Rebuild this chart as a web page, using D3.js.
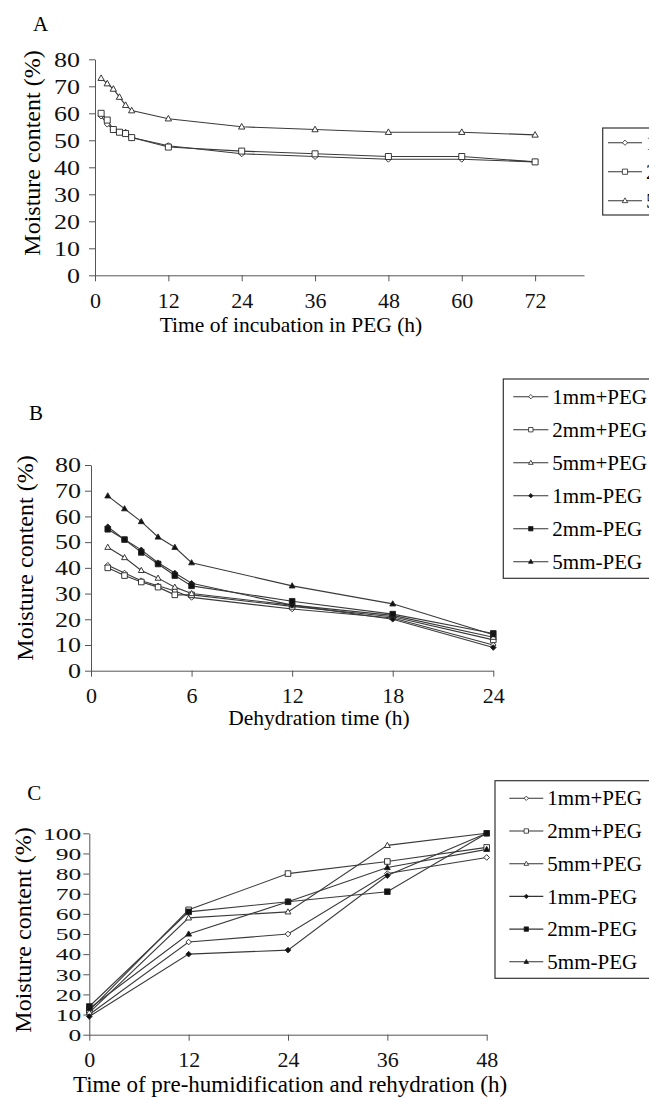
<!DOCTYPE html>
<html>
<head>
<meta charset="utf-8">
<script src="https://cdnjs.cloudflare.com/ajax/libs/d3/7.8.5/d3.min.js"></script>
<style>
  body { margin: 0; background: #fff; }
  svg text { font-family: "Liberation Serif", Tinos, "Times New Roman", "DejaVu Serif", serif; }
</style>
</head>
<body>
<div id="chart"></div>
<script>
// Panel A: incubation in PEG
var hoursA = [1, 2, 3, 4, 5, 6, 12, 24, 36, 48, 60, 72];
var a1mm = [59, 56, 54, 53, 53, 51, 48, 45, 44, 43, 43, 42];
var a2mm = [60, 57.5, 54, 53, 52.5, 51, 47.5, 46, 45, 44, 44, 42];
var a5mm = [73, 71, 69, 66, 63, 61, 58, 55, 54, 53, 53, 52];
var namesA = ["1mm", "2mm", "5mm"];
var ticksAx = [0, 12, 24, 36, 48, 60, 72];

// Panel B: dehydration
var hoursB = [1, 2, 3, 4, 5, 6, 12, 18, 24];
var b1p = [41, 38, 35, 33, 31, 28.5, 24, 20.5, 10];
var b2p = [40, 37, 34.5, 32.5, 29.5, 29.5, 25, 21, 12];
var b5p = [48, 44, 39, 36, 32.5, 30, 25.5, 21.5, 13];
var b1m = [56, 51, 47, 42, 38, 34, 25.5, 20, 9];
var b2m = [55, 51, 46, 41.5, 37, 33, 27, 22, 14.5];
var b5m = [68, 63, 58, 52, 48, 42, 33, 26, 14];
var ticksBx = [0, 6, 12, 18, 24];

// Panel C: pre-humidification and rehydration
var hoursC = [0, 12, 24, 36, 48];
var c1p = [10, 46, 50, 80, 88];
var c2p = [12, 62, 80, 86, 93];
var c5p = [11, 58, 61, 94, 100];
var c1m = [9, 40, 42, 79, 100];
var c2m = [14, 61, 66, 71, 100];
var c5m = [13, 50, 66, 83, 92];
var ticksCx = [0, 12, 24, 36, 48];

var namesBC = ["1mm+PEG", "2mm+PEG", "5mm+PEG", "1mm-PEG", "2mm-PEG", "5mm-PEG"];
var shapes = ["diamond", "square", "triangle", "diamond", "square", "triangle"];
var filled = [false, false, false, true, true, true];

var serif = "'Liberation Serif', Tinos, 'Times New Roman', 'DejaVu Serif', serif";

var svg = d3.select("#chart").append("svg")
    .attr("width", 649)
    .attr("height", 1100)
    .style("display", "block");

function markerPath(shape, r) {
    if (shape === "diamond") return "M0," + (-r) + "L" + r + ",0L0," + r + "L" + (-r) + ",0Z";
    if (shape === "square") return "M" + (-r) + "," + (-r) + "H" + r + "V" + r + "H" + (-r) + "Z";
    return "M0," + (-r * 1.1) + "L" + (r * 1.05) + "," + (r * 0.75) + "L" + (-r * 1.05) + "," + (r * 0.75) + "Z";
}

function drawPanel(p) {
    var g = svg.append("g").attr("font-family", serif);
    var x = d3.scaleLinear().domain(p.xDomain).range([p.left, p.right]);
    var y = d3.scaleLinear().domain([0, p.yMax]).range([p.bottom, p.top]);

    // panel letter
    g.append("text")
        .attr("x", p.left - 62)
        .attr("y", p.letterY)
        .attr("font-family", serif)
        .style("font-size", "21px")
        .text(p.letter);

    // x axis
    var xAxis = g.append("g")
        .attr("transform", "translate(0," + p.bottom + ")")
        .call(d3.axisBottom(x).tickValues(p.xTicks).tickSize(6).tickSizeOuter(0));
    xAxis.attr("font-family", serif);
    xAxis.select(".domain").attr("stroke", "#555");
    xAxis.selectAll(".tick line").attr("stroke", "#555");
    xAxis.selectAll(".tick text")
        .attr("y", 17)
        .attr("dy", "0.71em")
        .attr("fill", "#111")
        .attr("font-family", serif)
        .style("font-size", "22px");

    // y axis (tick digits in the original are wide, so stretch them)
    var sx = p.yTickScale;
    var yAxis = g.append("g")
        .attr("transform", "translate(" + p.left + ",0)")
        .call(d3.axisLeft(y).tickValues(d3.range(0, p.yMax + 1, 10)).tickSize(6).tickSizeOuter(0));
    yAxis.attr("font-family", serif);
    yAxis.select(".domain").attr("stroke", "#555");
    yAxis.selectAll(".tick line").attr("stroke", "#555");
    yAxis.selectAll(".tick text")
        .attr("x", -p.yGap / sx)
        .attr("dy", "0.34em")
        .attr("transform", "scale(" + sx + ",1)")
        .attr("fill", "#111")
        .attr("font-family", serif)
        .style("font-size", p.yTickSize + "px");

    // axis labels
    g.append("text")
        .attr("x", p.xLabelX)
        .attr("y", p.xLabelY)
        .attr("text-anchor", "middle")
        .attr("font-family", serif)
        .style("font-size", p.xLabelSize + "px")
        .text(p.xLabel);

    g.append("text")
        .attr("transform", "translate(" + p.yLabelX + "," + p.yLabelY + ") rotate(-90)")
        .attr("text-anchor", "middle")
        .attr("font-family", serif)
        .style("font-size", "24px")
        .text("Moisture content (%)");

    // series
    var line = d3.line()
        .x(function (d) { return x(d[0]); })
        .y(function (d) { return y(d[1]); });

    p.series.forEach(function (s, i) {
        var pts = p.hours.map(function (h, j) { return [h, s[j]]; });
        g.append("path")
            .datum(pts)
            .attr("fill", "none")
            .attr("stroke", "#3a3a3a")
            .attr("stroke-width", 1.1)
            .attr("d", line);
    });
    p.series.forEach(function (s, i) {
        var pts = p.hours.map(function (h, j) { return [h, s[j]]; });
        g.selectAll(null)
            .data(pts)
            .enter().append("path")
            .attr("transform", function (d) { return "translate(" + x(d[0]) + "," + y(d[1]) + ")"; })
            .attr("d", markerPath(p.shapes[i], p.markR))
            .attr("fill", p.filled[i] ? "#111" : "#fff")
            .attr("stroke", "#222")
            .attr("stroke-width", 0.9);
    });

    // legend (runs off the right edge, as in the original)
    var lg = g.append("g");
    lg.append("rect")
        .attr("x", p.legX)
        .attr("y", p.legTop)
        .attr("width", 700 - p.legX)
        .attr("height", p.legBottom - p.legTop)
        .attr("fill", "none")
        .attr("stroke", "#333")
        .attr("stroke-width", 1.2);

    var items = lg.selectAll(".leg")
        .data(p.names)
        .enter().append("g")
        .attr("class", "leg")
        .attr("transform", function (d, i) {
            return "translate(" + p.legLineX + "," + (p.legFirst + i * p.legStep) + ")";
        });
    items.append("line")
        .attr("x1", 0)
        .attr("x2", p.legLineW)
        .attr("stroke", "#333")
        .attr("stroke-width", 1.1);
    items.append("path")
        .attr("transform", "translate(" + (p.legLineW / 2) + ",0)")
        .attr("d", function (d, i) { return markerPath(p.shapes[i], p.legMarkR); })
        .attr("fill", function (d, i) { return p.filled[i] ? "#111" : "#fff"; })
        .attr("stroke", "#222")
        .attr("stroke-width", 0.8);
    items.append("text")
        .attr("x", p.legLineW + 4)
        .attr("dy", "0.34em")
        .attr("font-family", serif)
        .style("font-size", "21px")
        .text(function (d) { return d; });
}

drawPanel({
    letter: "A", letterY: 31,
    xDomain: [0, 80], left: 95, right: 584, top: 59.3, bottom: 275.3, yMax: 80,
    xTicks: ticksAx, yGap: 15, yTickSize: 20, yTickScale: 1.3,
    xLabel: "Time of incubation in PEG (h)", xLabelX: 291, xLabelY: 332, xLabelSize: 21.5,
    yLabelX: 40, yLabelY: 153,
    hours: hoursA, series: [a1mm, a2mm, a5mm],
    shapes: shapes.slice(0, 3), filled: filled.slice(0, 3), markR: 3,
    names: namesA,
    legX: 602.7, legTop: 128, legBottom: 215, legLineX: 608, legLineW: 34,
    legFirst: 142.7, legStep: 29, legMarkR: 2.6
});

drawPanel({
    letter: "B", letterY: 420,
    xDomain: [0, 24], left: 91, right: 493.3, top: 465, bottom: 670.7, yMax: 80,
    xTicks: ticksBx, yGap: 10, yTickSize: 20, yTickScale: 1.3,
    xLabel: "Dehydration time (h)", xLabelX: 319, xLabelY: 725, xLabelSize: 21.5,
    yLabelX: 33, yLabelY: 558,
    hours: hoursB, series: [b1p, b2p, b5p, b1m, b2m, b5m],
    shapes: shapes, filled: filled, markR: 2.8,
    names: namesBC,
    legX: 503.3, legTop: 379, legBottom: 578.3, legLineX: 513.3, legLineW: 35,
    legFirst: 396.7, legStep: 33, legMarkR: 2.2
});

drawPanel({
    letter: "C", letterY: 800,
    xDomain: [0, 48], left: 89.3, right: 486.7, top: 833.3, bottom: 1034.7, yMax: 100,
    xTicks: ticksCx, yGap: 8, yTickSize: 17, yTickScale: 1.5,
    xLabel: "Time of pre-humidification and rehydration (h)", xLabelX: 290, xLabelY: 1092, xLabelSize: 23,
    yLabelX: 31, yLabelY: 930,
    hours: hoursC, series: [c1p, c2p, c5p, c1m, c2m, c5m],
    shapes: shapes, filled: filled, markR: 2.8,
    names: namesBC,
    legX: 495, legTop: 780.7, legBottom: 978.3, legLineX: 509.3, legLineW: 34,
    legFirst: 798.3, legStep: 32.7, legMarkR: 2.2
});
</script>
</body>
</html>
